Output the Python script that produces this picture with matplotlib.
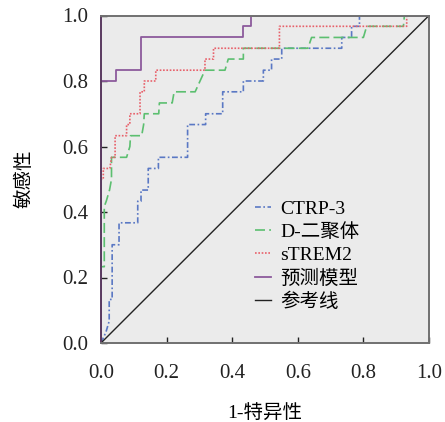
import matplotlib
matplotlib.use("Agg")
import matplotlib.pyplot as plt

plt.rcParams['font.family'] = ['Liberation Serif', 'Noto Sans CJK SC']

# ROC curve data (1 - specificity, sensitivity)
ctrp3_x = [0, 0.015, 0.025, 0.025, 0.034, 0.034, 0.055, 0.055, 0.112, 0.112, 0.122, 0.122, 0.144, 0.144,
           0.175, 0.175, 0.264, 0.264, 0.319, 0.319, 0.371, 0.371, 0.434, 0.434, 0.495, 0.495, 0.52, 0.52,
           0.551, 0.551, 0.734, 0.734, 0.764, 0.764, 0.788, 0.788, 1.0]
ctrp3_y = [0, 0.033, 0.067, 0.133, 0.133, 0.300, 0.300, 0.367, 0.367, 0.433, 0.433, 0.467, 0.467, 0.533,
           0.533, 0.567, 0.567, 0.667, 0.667, 0.700, 0.700, 0.767, 0.767, 0.800, 0.800, 0.833, 0.833, 0.867,
           0.867, 0.900, 0.900, 0.933, 0.933, 0.967, 0.967, 1.0, 1.0]

ddimer_x = [0, 0, 0.010, 0.010, 0.016, 0.026, 0.032, 0.032, 0.078, 0.088, 0.090, 0.124, 0.130, 0.132,
            0.176, 0.178, 0.217, 0.223, 0.287, 0.317, 0.378, 0.388, 0.434, 0.434, 0.631, 0.642, 0.800,
            0.810, 0.922, 0.925, 1.0]
ddimer_y = [0, 0.233, 0.233, 0.417, 0.433, 0.467, 0.500, 0.567, 0.567, 0.600, 0.633, 0.633, 0.667, 0.700,
            0.700, 0.733, 0.733, 0.767, 0.767, 0.833, 0.833, 0.867, 0.867, 0.900, 0.900, 0.933, 0.933,
            0.967, 0.967, 1.0, 1.0]

strem2_x = [0, 0, 0.007, 0.007, 0.027, 0.032, 0.043, 0.043, 0.078, 0.078, 0.088, 0.088, 0.119, 0.119,
            0.132, 0.132, 0.167, 0.167, 0.317, 0.317, 0.343, 0.343, 0.544, 0.544, 0.932, 0.932, 1.0]
strem2_y = [0, 0.500, 0.500, 0.533, 0.533, 0.567, 0.567, 0.633, 0.633, 0.667, 0.667, 0.700, 0.700, 0.767,
            0.767, 0.800, 0.800, 0.833, 0.833, 0.867, 0.867, 0.900, 0.900, 0.967, 0.967, 1.0, 1.0]

model_x = [0, 0, 0.045, 0.045, 0.122, 0.122, 0.434, 0.434, 0.456, 0.456, 1.0]
model_y = [0, 0.800, 0.800, 0.833, 0.833, 0.933, 0.933, 0.967, 0.967, 1.0, 1.0]

ref_x = [0, 1]
ref_y = [0, 1]

labels = ['CTRP-3', 'D-二聚体', 'sTREM2', '预测模型', '参考线']
ticks = [0, 0.2, 0.4, 0.6, 0.8, 1.0]
tick_labels = ['0.0', '0.2', '0.4', '0.6', '0.8', '1.0']

fig = plt.figure(figsize=(4.45, 4.22), dpi=100)
ax = fig.add_axes([101/445, 1 - 343/422, 328/445, 327.5/422])
ax.set_facecolor('#ebebeb')

ax.plot(ctrp3_x, ctrp3_y, color='#5a78c4', lw=1.2, linestyle=(0, (3.5, 1.5, 1, 1.5)), label=labels[0])
ax.plot(ddimer_x, ddimer_y, color='#5cbf70', lw=1.2, linestyle=(0, (6, 2.5)), label=labels[1])
ax.plot(strem2_x, strem2_y, color='#e8606a', lw=1.2, linestyle=(0, (1, 1)), label=labels[2])
ax.plot(model_x, model_y, color='#8c5a9c', lw=1.3, label=labels[3])
ax.plot(ref_x, ref_y, color='#222222', lw=1.0, label=labels[4])

ax.set_xlim(0, 1)
ax.set_ylim(0, 1)
ax.set_xticks(ticks)
ax.set_yticks(ticks)
ax.set_xticklabels(tick_labels)
ax.set_yticklabels(tick_labels)
ax.tick_params(direction='in', length=4, width=1, colors='#222222', labelsize=15, pad=9)
ax.tick_params(axis='x', pad=15)
for s in ax.spines.values():
    s.set_color('#707070')
    s.set_linewidth(1.4)
ax.spines['left'].set_color('#5a3a60')

ax.set_xlabel('1-特异性', fontsize=14, labelpad=16)
ax.set_ylabel('敏感性', fontsize=14, labelpad=21)

leg = ax.legend(loc='upper left', bbox_to_anchor=((255 - 101) / 328, (343 - 200) / 327.5),
                frameon=False, fontsize=14, handlelength=0.8, handletextpad=0.5,
                labelspacing=0.28, borderpad=0, borderaxespad=0)

fig.savefig('out.png', dpi=100)
